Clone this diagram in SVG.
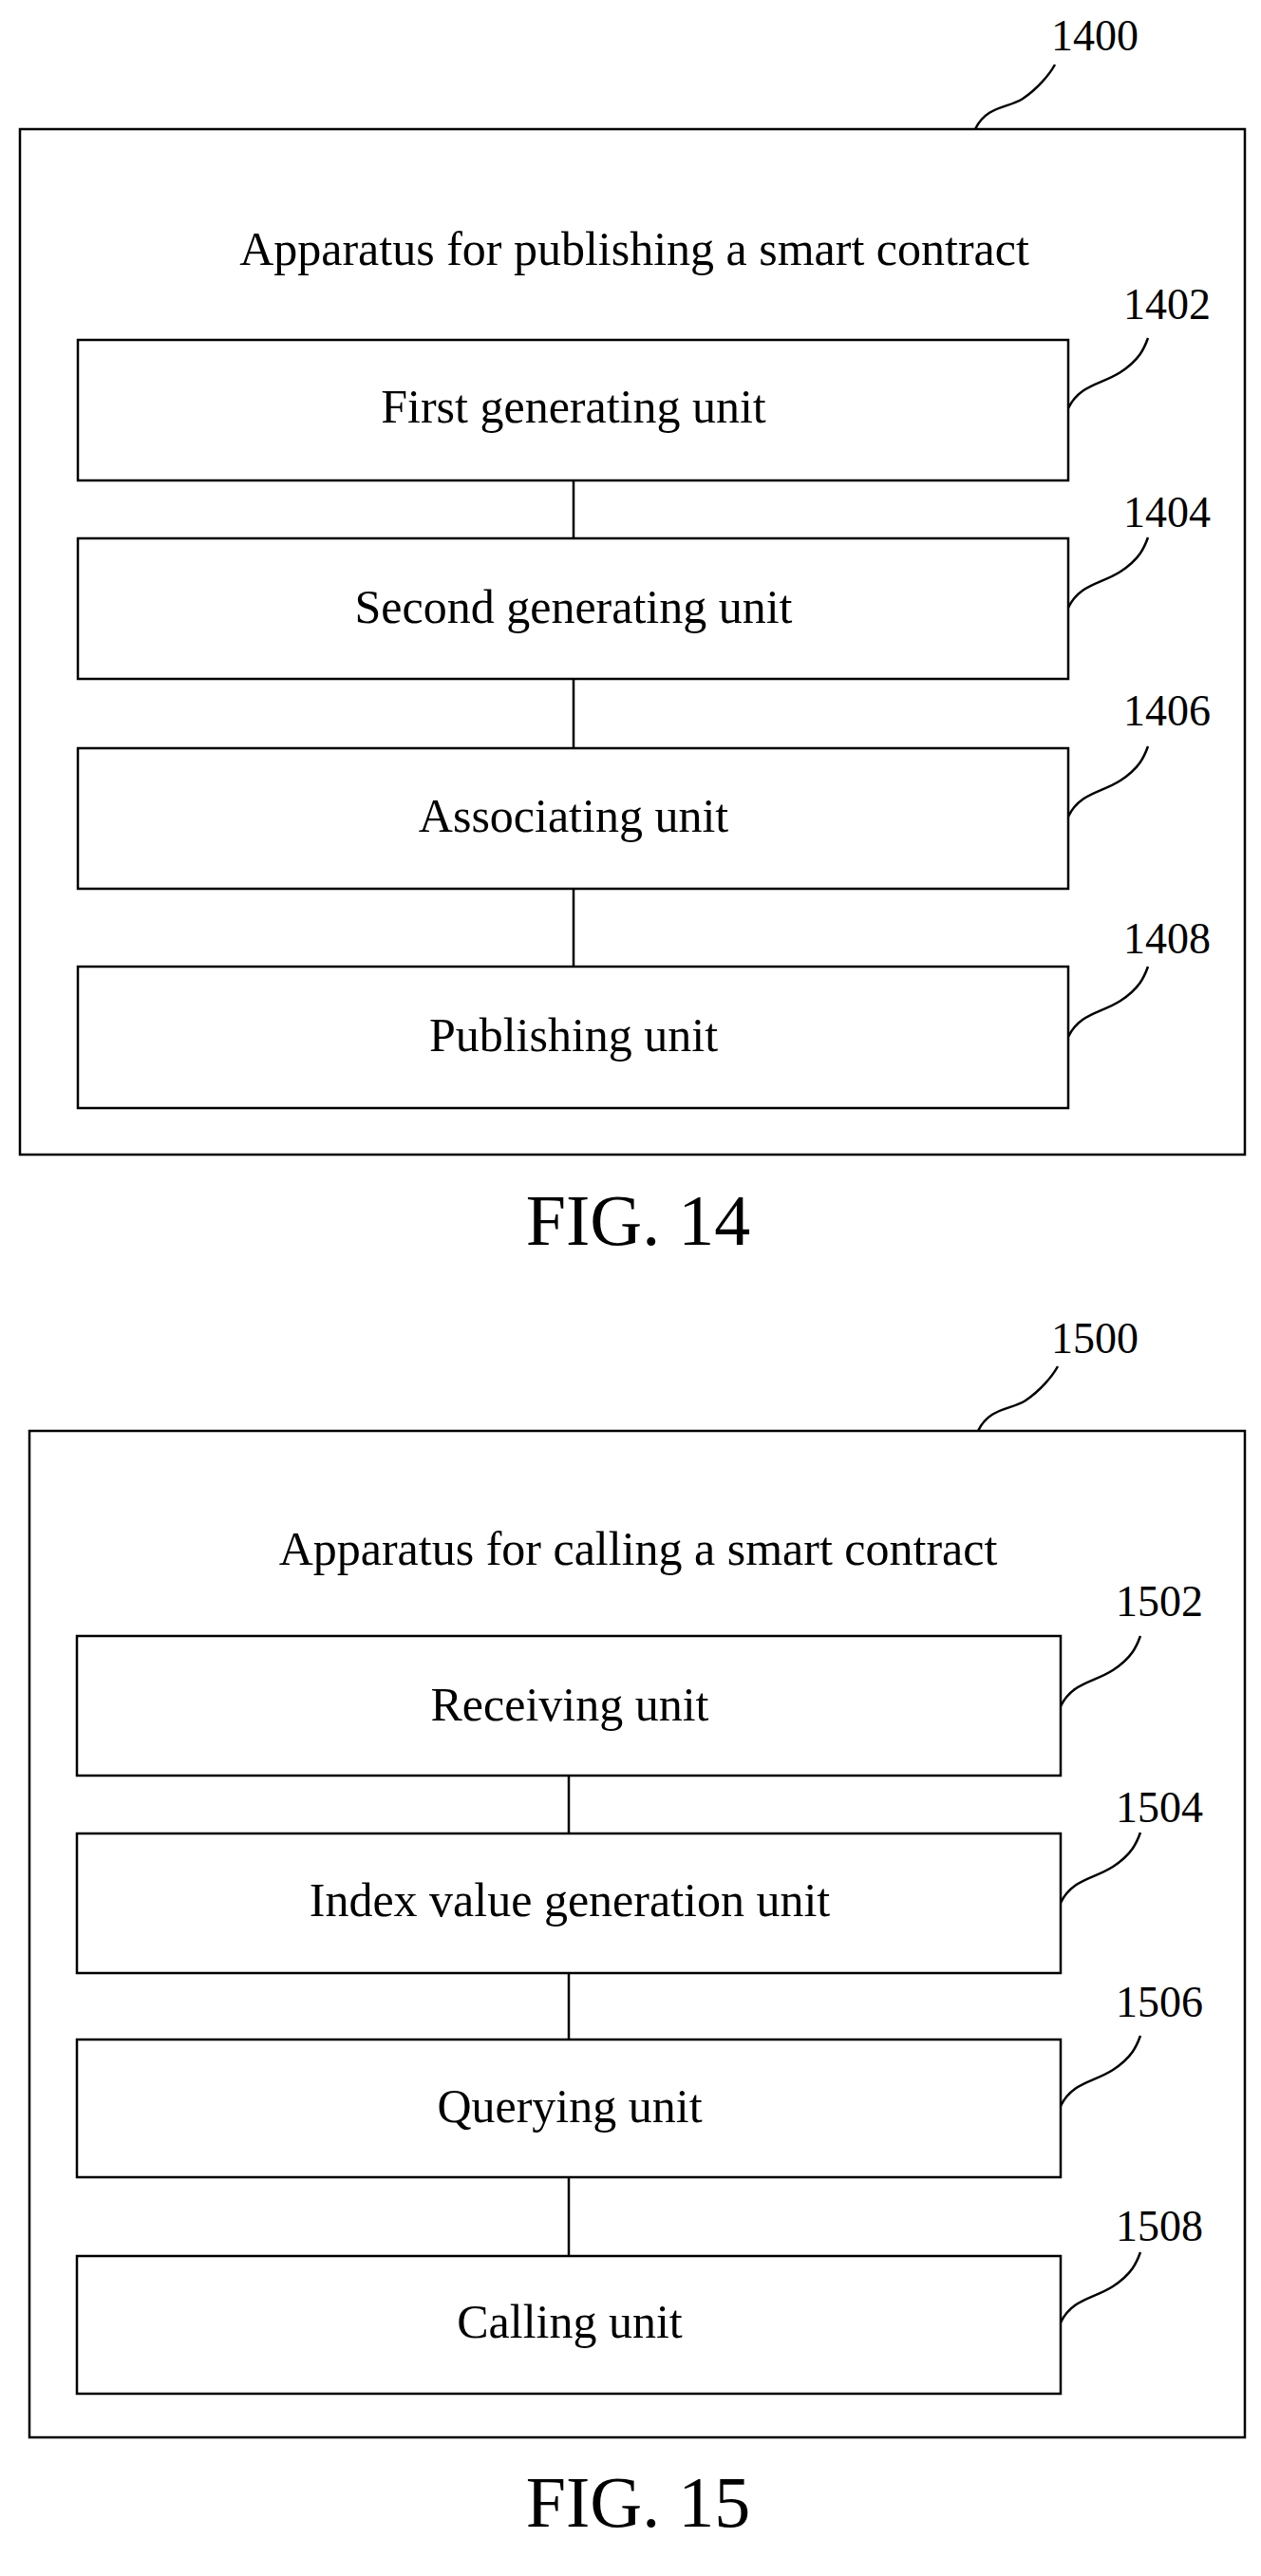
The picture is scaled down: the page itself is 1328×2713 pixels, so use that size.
<svg xmlns="http://www.w3.org/2000/svg" width="1328" height="2713" viewBox="0 0 1328 2713">
<style>
rect{fill:#fff;stroke:#000;stroke-width:2.5}
.c,.l{fill:none;stroke:#000;stroke-width:2.5}
text{font-family:"Liberation Serif","Times New Roman",serif;fill:#000;font-size:46px}
.m{text-anchor:middle;font-size:50px}
.f{font-size:76px}
</style>
<rect width="1328" height="2713" style="stroke:none"/>
<g id="fig14">
<g id="n1400"><rect x="21" y="136" width="1290" height="1080"/><text class="m" x="668" y="279">Apparatus for publishing a smart contract</text><text x="1107" y="53">1400</text><path class="l" d="M1027 136 c12 -25 35 -22 50 -32 s28 -25 34 -36"/></g>
<g id="n1402"><rect x="82" y="358" width="1043" height="148"/><text class="m" x="604" y="445">First generating unit</text><text x="1183" y="336">1402</text><path class="l" d="M1125 430 c12 -25 35 -25 55 -38 s25 -25 29 -36"/></g>
<g id="n1404"><rect x="82" y="567" width="1043" height="148"/><text class="m" x="604" y="656">Second generating unit</text><text x="1183" y="555">1404</text><path class="l" d="M1125 640 c12 -25 35 -25 55 -38 s25 -25 29 -36"/></g>
<g id="n1406"><rect x="82" y="788" width="1043" height="148"/><text class="m" x="604" y="876">Associating unit</text><text x="1183" y="764">1406</text><path class="l" d="M1125 860 c12 -25 35 -25 55 -38 s25 -25 29 -36"/></g>
<g id="n1408"><rect x="82" y="1018" width="1043" height="149"/><text class="m" x="604" y="1107">Publishing unit</text><text x="1183" y="1004">1408</text><path class="l" d="M1125 1092 c12 -25 35 -25 55 -38 s25 -25 29 -36"/></g>
<text class="m f" x="672" y="1311">FIG. 14</text>
</g>
<g id="fig15">
<g id="n1500"><rect x="31" y="1507" width="1280" height="1060"/><text class="m" x="672" y="1648">Apparatus for calling a smart contract</text><text x="1107" y="1425">1500</text><path class="l" d="M1030 1507 c12 -25 35 -22 50 -32 s28 -25 34 -36"/></g>
<g id="n1502"><rect x="81" y="1723" width="1036" height="147"/><text class="m" x="600" y="1812">Receiving unit</text><text x="1175" y="1702">1502</text><path class="l" d="M1117 1797 c12 -25 35 -25 55 -38 s25 -25 29 -36"/></g>
<g id="n1504"><rect x="81" y="1931" width="1036" height="147"/><text class="m" x="600" y="2018">Index value generation unit</text><text x="1175" y="1919">1504</text><path class="l" d="M1117 2004 c12 -25 35 -25 55 -38 s25 -25 29 -36"/></g>
<g id="n1506"><rect x="81" y="2148" width="1036" height="145"/><text class="m" x="600" y="2235">Querying unit</text><text x="1175" y="2124">1506</text><path class="l" d="M1117 2218 c12 -25 35 -25 55 -38 s25 -25 29 -36"/></g>
<g id="n1508"><rect x="81" y="2376" width="1036" height="145"/><text class="m" x="600" y="2462">Calling unit</text><text x="1175" y="2360">1508</text><path class="l" d="M1117 2446 c12 -25 35 -25 55 -38 s25 -25 29 -36"/></g>
<text class="m f" x="672" y="2661">FIG. 15</text>
</g>
<g id="connectors">
<path class="c" d="M604 506V567M604 715V788M604 936V1018M599 1870V1931M599 2078V2148M599 2293V2376"/>
</g>
</svg>
